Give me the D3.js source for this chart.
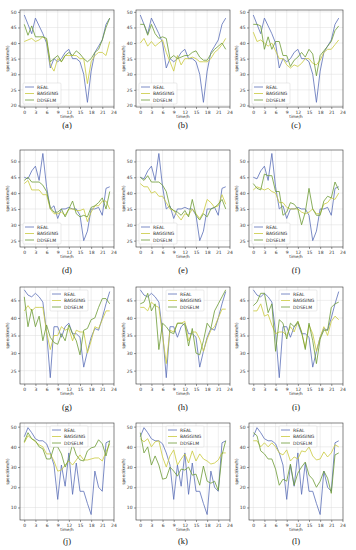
<html>
<head>
<script src="https://d3js.org/d3.v7.min.js"></script>
<style>
body { margin: 0; background: #fff; }
svg { display: block; }
.tick text { font-family: 'DejaVu Sans', sans-serif; font-size: 4.5px; fill: #333; }
.grid line { stroke: #ddd; stroke-width: 0.5; }
</style>
</head>
<body>
<svg width="356" height="550"></svg>
<script>
var hours = d3.range(24);
var panelLabels = ["(a)","(b)","(c)","(d)","(e)","(f)","(g)","(h)","(i)","(j)","(k)","(l)"];
var seriesNames = ["REAL", "BAGGING", "DDSELM"];

// measured speed, one per row
var realRow1 = [49,46,43,48,45.5,43,40,32,35,34,35,37,38,35,35,34,30,21,31,37,39,41,46,48];
var realRow2 = [45,44.5,47,48.5,44,52.5,42,35,36,32,35,35,35.5,35,35,33,25,28,35,35,35.5,33,41.5,42];
var realRow3 = [48,46.5,46,47,46,44.5,36,23,37.5,37.5,34.5,37.5,38.5,35.5,35.5,34.5,26,30.5,34.5,37,36.5,40,44,47.5];
var realRow4 = [45,49.5,47,44,43,43,41.5,37,31,14,31,20.5,37,16.5,32,18,18,12,6.5,28,20,18,42,43];

var baggingA = [40.5,41,41.5,40.5,41,42,41,33,31,35,34,36,36,36,36,35,35,27,34,36,37,37,36,40.5];
var baggingB = [40,41.5,39,40.5,39,40,41,37,34,31,36,33,35,35,35.5,35,34,34,34,35,37,38,39.5,41.5];
var baggingC = [43.5,40.5,41,40,39,40,37.5,35,35,33,32,33,32.5,33.5,35,35,33.5,33,34.5,37,38,38,39.5,41];
var baggingD = [43,44,41,41,41,39.5,39.5,35,33.5,33.5,34,33,35,35,34.5,34.5,35,31,34,36,36,37.5,37.5,35];
var baggingE = [43,42,42,40,40.5,39,39,37,35,34.5,33,31.5,33.5,33,35,33.5,32,34,38,37,35.5,36,39.5,36.5];
var baggingF = [41,42,41.5,41,41.5,40.5,40,37,37,35.5,35,35,35,34,33.5,34,35,33.5,33.5,36.5,37,38.5,38,40];
var baggingG = [42,43.5,42,43,43,43,36,31,35,35,37.5,36.5,37,33.5,36.5,36,36,30,33.5,37.5,37,39.5,42,42];
var baggingH = [43,43,42,44.5,43.5,43,35,27,36.5,36,38.5,38.5,39,33.5,36,36,34,30.5,34,36.5,37.5,40,42.5,42.5];
var baggingI = [42,42,44,40.5,41,38,35.5,36,36,35,37.5,36,39,36,31.5,38,35.5,30.5,34.5,37.5,35,39,40.5,39.5];
var baggingJ = [42,45.5,44,42.5,41,40,36.5,36.5,33,28,28.5,31,33,31,33.5,36,33.5,33.5,34,34.5,34.5,33,37.5,41.5];
var baggingK = [44,42.5,44,40,42.5,43,35,30,35.5,38.5,31,34,36.5,32,38,33,36.5,34,33,31.5,32,33.5,37,37];
var baggingL = [43,43,40,42,40,42,40,37,36,38.5,33,35,34,38,37.5,40,35.5,33.5,34,37.5,35,37,41,40];

var ddselmA = [46,42.5,45.5,42,42,42,41.5,34,35,36,34,36,37,36,37.5,36.5,35,34,35,37,38,41,45,48];
var ddselmB = [46,46,42.5,46,43,41.5,42,41.5,35,36,35,35.5,36,36,37,37.5,35.5,34.5,34.5,36.5,38,39,40,38];
var ddselmC = [46,46,45.5,38,42,38,40.5,40.5,36,36,32.5,34.5,35.5,37,35.5,38,36.5,29.5,36,37.5,39,40.5,44,45.5];
var ddselmD = [44,45,43.5,43.5,43.5,42.5,40.5,35.5,34,34,35,32.5,35,37.5,33.5,32.5,33,32.5,35.5,36,37,38.5,35,40.5];
var ddselmE = [45,44,45.5,43.5,43.5,43.5,42.5,40.5,35.5,34.5,34,33,34.5,32.5,38,33,31.5,33.5,32.5,35,35.5,36.5,38,35];
var ddselmF = [43,41.5,41,46,45.5,45.5,40.5,40.5,33,34,37,36.5,35,30,34,41.5,35,33,33,37.5,39,38.5,43.5,41];
var ddselmG = [46,37.5,42.5,37.5,40.5,33.5,38,34.5,33,32.5,35.5,33.5,38,35.5,33.5,29.5,36.5,37,39.5,40,43,45.5,45.5,44];
var ddselmH = [44,44.5,47,42,44,31,38.5,37.5,36,35.5,38.5,38.5,38,32,37,30,29.5,33.5,38.5,37,42,44,46,48];
var ddselmI = [43.5,44.5,47,47,41.5,44,30.5,39.5,38.5,34,38.5,37.5,39,36,31,38.5,33.5,27,34,36.5,36.5,43,44,44.5];
var ddselmJ = [42.5,47,44,43,40,39,34,34,40,40,36.5,30,34,41.5,36,33.5,33,38,39.5,40,43.5,41.5,35.5,43];
var ddselmK = [47,37,40,31,35.5,31,24,24.5,30,28,25.5,29,28.5,30,26,26.5,21,30.5,23,22,23,18.5,36,43];
var ddselmL = [47,45.5,38,36.5,34,34,29,21,24,23,31.5,21,27,30,32.5,26,24,20,23,28,24.5,17,36,37];

// y axis settings per row
var yDomains = [[19.5, 50.6], [23, 53.6], [21.2, 48.8], [3.8, 51.8]];
var yTicks = [[20,25,30,35,40,45,50], [25,30,35,40,45,50], [25,30,35,40,45], [10,20,30,40,50]];
var xTicks = [0,3,6,9,12,15,18,21,24];

var reals = [realRow1, realRow2, realRow3, realRow4];
var baggings = [baggingA,baggingB,baggingC,baggingD,baggingE,baggingF,baggingG,baggingH,baggingI,baggingJ,baggingK,baggingL];
var ddselms = [ddselmA,ddselmB,ddselmC,ddselmD,ddselmE,ddselmF,ddselmG,ddselmH,ddselmI,ddselmJ,ddselmK,ddselmL];

var colors = ["#5a6fb8", "#c9c93c", "#6c9a35"];

var svg = d3.select("svg");

var colLeft = [20, 136, 249];
var rowTop = [10, 150, 287, 423];
var labelY = [128, 273, 410, 544];
var w = 94, h = 97;

for (var i = 0; i < 12; i++) {
  var row = Math.floor(i / 3), col = i % 3;
  var g = svg.append("g").attr("transform", "translate(" + colLeft[col] + "," + rowTop[row] + ")");

  var x = d3.scaleLinear().domain([-1.15, 24.15]).range([0, w]);
  var y = d3.scaleLinear().domain(yDomains[row]).range([h, 0]);

  // grid
  g.append("g").attr("class", "grid")
    .selectAll("line.v").data(xTicks.filter(function (t) { return t < 24; })).enter().append("line")
    .attr("x1", function (d) { return x(d); }).attr("x2", function (d) { return x(d); })
    .attr("y1", 0).attr("y2", h);
  g.append("g").attr("class", "grid")
    .selectAll("line.h").data(yTicks[row]).enter().append("line")
    .attr("x1", 0).attr("x2", w)
    .attr("y1", function (d) { return y(d); }).attr("y2", function (d) { return y(d); });

  var xAxis = d3.axisBottom(x).tickValues(xTicks).tickSize(2).tickPadding(1.5);
  var yAxis = d3.axisLeft(y).tickValues(yTicks[row]).tickSize(2).tickPadding(1.5);
  var xg = g.append("g").attr("transform", "translate(0," + h + ")").call(xAxis);
  var yg = g.append("g").call(yAxis);
  xg.select(".domain").remove();
  yg.select(".domain").remove();
  g.selectAll(".tick line").attr("stroke", "#333").attr("stroke-width", 0.5);

  g.append("rect").attr("width", w).attr("height", h)
    .attr("fill", "none").attr("stroke", "#333").attr("stroke-width", 0.6);

  var line = d3.line()
    .x(function (d, k) { return x(hours[k]); })
    .y(function (d) { return y(d); });

  var series = [reals[row], baggings[i], ddselms[i]];
  series.forEach(function (s, k) {
    g.append("path").datum(s).attr("d", line)
      .attr("fill", "none").attr("stroke", colors[k]).attr("stroke-width", 0.8);
  });

  // axis labels
  g.append("text").attr("x", w / 2).attr("y", h + 11)
    .attr("text-anchor", "middle").attr("font-family", "DejaVu Sans").attr("font-size", 4.2)
    .attr("fill", "#333").text("time/h");
  g.append("text").attr("transform", "translate(-11," + (h / 2) + ") rotate(-90)")
    .attr("text-anchor", "middle").attr("font-family", "DejaVu Sans").attr("font-size", 4.2)
    .attr("fill", "#333").text("speed(km/h)");

  // legend
  var lx, ly;
  if (row < 2) { lx = 3; ly = h - 24; } else { lx = 30; ly = 3; }
  var lg = g.append("g").attr("transform", "translate(" + lx + "," + ly + ")");
  lg.append("rect").attr("width", 38).attr("height", 21)
    .attr("fill", "#fff").attr("fill-opacity", 0.85).attr("stroke", "#ccc").attr("stroke-width", 0.4).attr("rx", 1);
  seriesNames.forEach(function (n, k) {
    lg.append("line").attr("x1", 2).attr("x2", 11).attr("y1", 4 + k * 6.5).attr("y2", 4 + k * 6.5)
      .attr("stroke", colors[k]).attr("stroke-width", 0.8);
    lg.append("text").attr("x", 14).attr("y", 5.6 + k * 6.5)
      .attr("font-family", "DejaVu Sans").attr("font-size", 4.5).attr("fill", "#333").text(n);
  });

  // panel label
  svg.append("text").attr("x", colLeft[col] + w / 2).attr("y", labelY[row])
    .attr("text-anchor", "middle").attr("font-family", "Liberation Serif, serif").attr("font-size", 8.5)
    .attr("fill", "#111").text(panelLabels[i]);
}
</script>
</body>
</html>
